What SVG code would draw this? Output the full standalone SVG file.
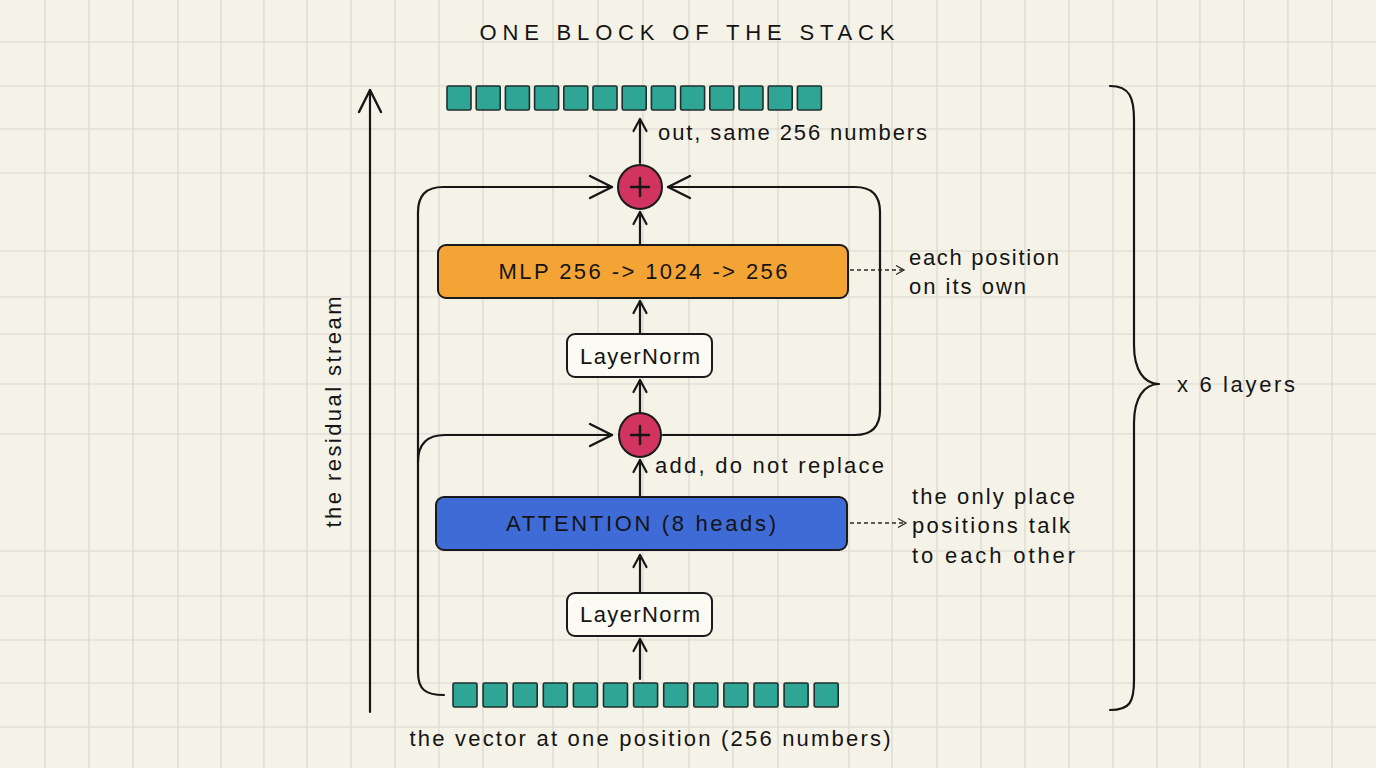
<svg xmlns="http://www.w3.org/2000/svg" width="1376" height="768" viewBox="0 0 1376 768">
<defs>
<style>
.grid line{stroke:#d9d8cf;stroke-width:1.2}
.t{font-family:"Liberation Sans","DejaVu Sans",sans-serif;fill:#141414;font-size:22px}
.c{text-anchor:middle;dominant-baseline:central}
.conn{fill:none;stroke:#161616;stroke-width:2.2;stroke-linecap:round;stroke-linejoin:round}
.dash{fill:none;stroke:#2a2a2a;stroke-width:1.3;stroke-dasharray:4 3}
.sq{fill:#2fa596;stroke:#1f2f2d;stroke-width:1.6}
.plus{fill:#d1355f;stroke:#1a1a1a;stroke-width:2}
.pl{stroke:#161616;stroke-width:2.4;stroke-linecap:round}
.box{stroke:#1a1a1a;stroke-width:2}
</style>
<marker id="ah" viewBox="-14 -9 16 18" markerWidth="16" markerHeight="18" refX="0" refY="0" orient="auto" markerUnits="userSpaceOnUse">
<path d="M-12,-6.5 L0,0 L-12,6.5" fill="none" stroke="#161616" stroke-width="2.2" stroke-linecap="round" stroke-linejoin="round"/>
</marker>
<marker id="ahL" viewBox="-26 -14 28 28" markerWidth="28" markerHeight="28" refX="0" refY="0" orient="auto" markerUnits="userSpaceOnUse">
<path d="M-22,-11 L0,0 L-22,11" fill="none" stroke="#161616" stroke-width="2.4" stroke-linecap="round" stroke-linejoin="round"/>
</marker>
<marker id="ahD" viewBox="-10 -6 12 12" markerWidth="12" markerHeight="12" refX="0" refY="0" orient="auto" markerUnits="userSpaceOnUse">
<path d="M-8,-4.5 L0,0 L-8,4.5" fill="none" stroke="#2a2a2a" stroke-width="1.3"/>
</marker>
</defs>
<rect width="1376" height="768" fill="#f5f3e7"/>
<g class="grid">
<line x1="45" y1="0" x2="45" y2="768"/><line x1="89" y1="0" x2="89" y2="768"/><line x1="133" y1="0" x2="133" y2="768"/><line x1="178" y1="0" x2="178" y2="768"/><line x1="221" y1="0" x2="221" y2="768"/><line x1="264" y1="0" x2="264" y2="768"/><line x1="307" y1="0" x2="307" y2="768"/><line x1="351" y1="0" x2="351" y2="768"/><line x1="395" y1="0" x2="395" y2="768"/><line x1="439" y1="0" x2="439" y2="768"/><line x1="483" y1="0" x2="483" y2="768"/><line x1="553" y1="0" x2="553" y2="768"/><line x1="598" y1="0" x2="598" y2="768"/><line x1="643" y1="0" x2="643" y2="768"/><line x1="689" y1="0" x2="689" y2="768"/><line x1="733" y1="0" x2="733" y2="768"/><line x1="778" y1="0" x2="778" y2="768"/><line x1="849" y1="0" x2="849" y2="768"/><line x1="892" y1="0" x2="892" y2="768"/><line x1="937" y1="0" x2="937" y2="768"/><line x1="981" y1="0" x2="981" y2="768"/><line x1="1025" y1="0" x2="1025" y2="768"/><line x1="1069" y1="0" x2="1069" y2="768"/><line x1="1113" y1="0" x2="1113" y2="768"/><line x1="1157" y1="0" x2="1157" y2="768"/><line x1="1200" y1="0" x2="1200" y2="768"/><line x1="1244" y1="0" x2="1244" y2="768"/><line x1="1288" y1="0" x2="1288" y2="768"/><line x1="1332" y1="0" x2="1332" y2="768"/>
<line x1="0" y1="42" x2="1376" y2="42"/><line x1="0" y1="86" x2="1376" y2="86"/><line x1="0" y1="129" x2="1376" y2="129"/><line x1="0" y1="173" x2="1376" y2="173"/><line x1="0" y1="251" x2="1376" y2="251"/><line x1="0" y1="297" x2="1376" y2="297"/><line x1="0" y1="334" x2="1376" y2="334"/><line x1="0" y1="384" x2="1376" y2="384"/><line x1="0" y1="434" x2="1376" y2="434"/><line x1="0" y1="551" x2="1376" y2="551"/><line x1="0" y1="596" x2="1376" y2="596"/><line x1="0" y1="640" x2="1376" y2="640"/><line x1="0" y1="683" x2="1376" y2="683"/><line x1="0" y1="727" x2="1376" y2="727"/>
</g>

<text id="title" class="t c" x="687" y="32" font-size="30" textLength="415">ONE BLOCK OF THE STACK</text>

<g id="connectors">
<path class="conn" d="M370,712 L370,90" marker-end="url(#ahL)"/>
<path class="conn" d="M444,695 C426,695 418,690 418,672 L418,212 Q418,187 443,187 L612,187" marker-end="url(#ahL)"/>
<path class="conn" d="M418,462 Q418,435 445,435 L612,435" marker-end="url(#ahL)"/>
<path class="conn" d="M663,435 L855,435 Q880,435 880,410 L880,212 Q880,187 855,187 L668,187" marker-end="url(#ahL)"/>
<path class="conn" d="M640,679 L640,639" marker-end="url(#ah)"/>
<path class="conn" d="M640,593 L640,555" marker-end="url(#ah)"/>
<path class="conn" d="M640,497 L640,460" marker-end="url(#ah)"/>
<path class="conn" d="M640,413 L640,380" marker-end="url(#ah)"/>
<path class="conn" d="M640,334 L640,301" marker-end="url(#ah)"/>
<path class="conn" d="M640,245 L640,212" marker-end="url(#ah)"/>
<path class="conn" d="M640,163 L640,119" marker-end="url(#ah)"/>
<path class="dash" d="M850,270 L904,270" marker-end="url(#ahD)"/>
<path class="dash" d="M850,523 L906,523" marker-end="url(#ahD)"/>
<path class="conn" d="M1110,86 C1130,86 1134,98 1134,120 L1134,345 C1134,370 1144,384 1159,384 C1144,384 1134,398 1134,423 L1134,680 C1134,702 1130,710 1110,710"/>
</g>

<g id="out-vector">
<rect class="sq" x="447" y="86" width="24" height="24" rx="1.5"/><rect class="sq" x="476.2" y="86" width="24" height="24" rx="1.5"/><rect class="sq" x="505.4" y="86" width="24" height="24" rx="1.5"/><rect class="sq" x="534.6" y="86" width="24" height="24" rx="1.5"/><rect class="sq" x="563.8" y="86" width="24" height="24" rx="1.5"/><rect class="sq" x="593" y="86" width="24" height="24" rx="1.5"/><rect class="sq" x="622.2" y="86" width="24" height="24" rx="1.5"/><rect class="sq" x="651.4" y="86" width="24" height="24" rx="1.5"/><rect class="sq" x="680.6" y="86" width="24" height="24" rx="1.5"/><rect class="sq" x="709.8" y="86" width="24" height="24" rx="1.5"/><rect class="sq" x="739" y="86" width="24" height="24" rx="1.5"/><rect class="sq" x="768.2" y="86" width="24" height="24" rx="1.5"/><rect class="sq" x="797.4" y="86" width="24" height="24" rx="1.5"/>
</g>
<text id="out-label" class="t" x="658" y="140" textLength="269">out, same 256 numbers</text>

<g id="add-top">
<circle class="plus" cx="640" cy="187" r="22"/>
<line class="pl" x1="631" y1="187" x2="649" y2="187"/><line class="pl" x1="640" y1="178" x2="640" y2="196"/>
</g>

<g id="mlp">
<rect class="box" x="438" y="245" width="410" height="53" rx="8" fill="#f4a435"/>
<text class="t c" x="643" y="271" textLength="289">MLP 256 -&gt; 1024 -&gt; 256</text>
</g>
<g id="mlp-note">
<text class="t" x="909" y="265" textLength="150">each position</text>
<text class="t" x="909" y="294" textLength="117">on its own</text>
</g>

<g id="ln-top">
<rect class="box" x="567" y="334" width="145" height="43" rx="8" fill="#fbfaf3"/>
<text class="t c" x="640" y="356" textLength="120">LayerNorm</text>
</g>

<g id="add-bottom">
<ellipse class="plus" cx="640" cy="435" rx="21" ry="22"/>
<line class="pl" x1="631" y1="435" x2="649" y2="435"/><line class="pl" x1="640" y1="426" x2="640" y2="444"/>
</g>
<text id="add-label" class="t" x="655" y="473" textLength="229">add, do not replace</text>

<g id="attention">
<rect class="box" x="436" y="497" width="411" height="53" rx="8" fill="#3f6bd6"/>
<text class="t c" x="641" y="523" textLength="270">ATTENTION (8 heads)</text>
</g>
<g id="attn-note">
<text class="t" x="912" y="504" textLength="163">the only place</text>
<text class="t" x="912" y="533" textLength="158">positions talk</text>
<text class="t" x="912" y="563" textLength="163">to each other</text>
</g>

<g id="ln-bottom">
<rect class="box" x="567" y="593" width="145" height="43" rx="8" fill="#fbfaf3"/>
<text class="t c" x="640" y="614" textLength="120">LayerNorm</text>
</g>

<g id="in-vector">
<rect class="sq" x="453" y="683" width="24" height="24" rx="1.5"/><rect class="sq" x="483.1" y="683" width="24" height="24" rx="1.5"/><rect class="sq" x="513.2" y="683" width="24" height="24" rx="1.5"/><rect class="sq" x="543.3" y="683" width="24" height="24" rx="1.5"/><rect class="sq" x="573.4" y="683" width="24" height="24" rx="1.5"/><rect class="sq" x="603.5" y="683" width="24" height="24" rx="1.5"/><rect class="sq" x="633.6" y="683" width="24" height="24" rx="1.5"/><rect class="sq" x="663.7" y="683" width="24" height="24" rx="1.5"/><rect class="sq" x="693.8" y="683" width="24" height="24" rx="1.5"/><rect class="sq" x="723.9" y="683" width="24" height="24" rx="1.5"/><rect class="sq" x="754" y="683" width="24" height="24" rx="1.5"/><rect class="sq" x="784.1" y="683" width="24" height="24" rx="1.5"/><rect class="sq" x="814.2" y="683" width="24" height="24" rx="1.5"/>
</g>
<text id="in-label" class="t c" x="650" y="738" textLength="481">the vector at one position (256 numbers)</text>

<text id="stream-label" class="t c" transform="translate(333,412) rotate(-90)" x="0" y="0" textLength="231">the residual stream</text>

<text id="layers-label" class="t" x="1177" y="392" textLength="118">x 6 layers</text>
</svg>
